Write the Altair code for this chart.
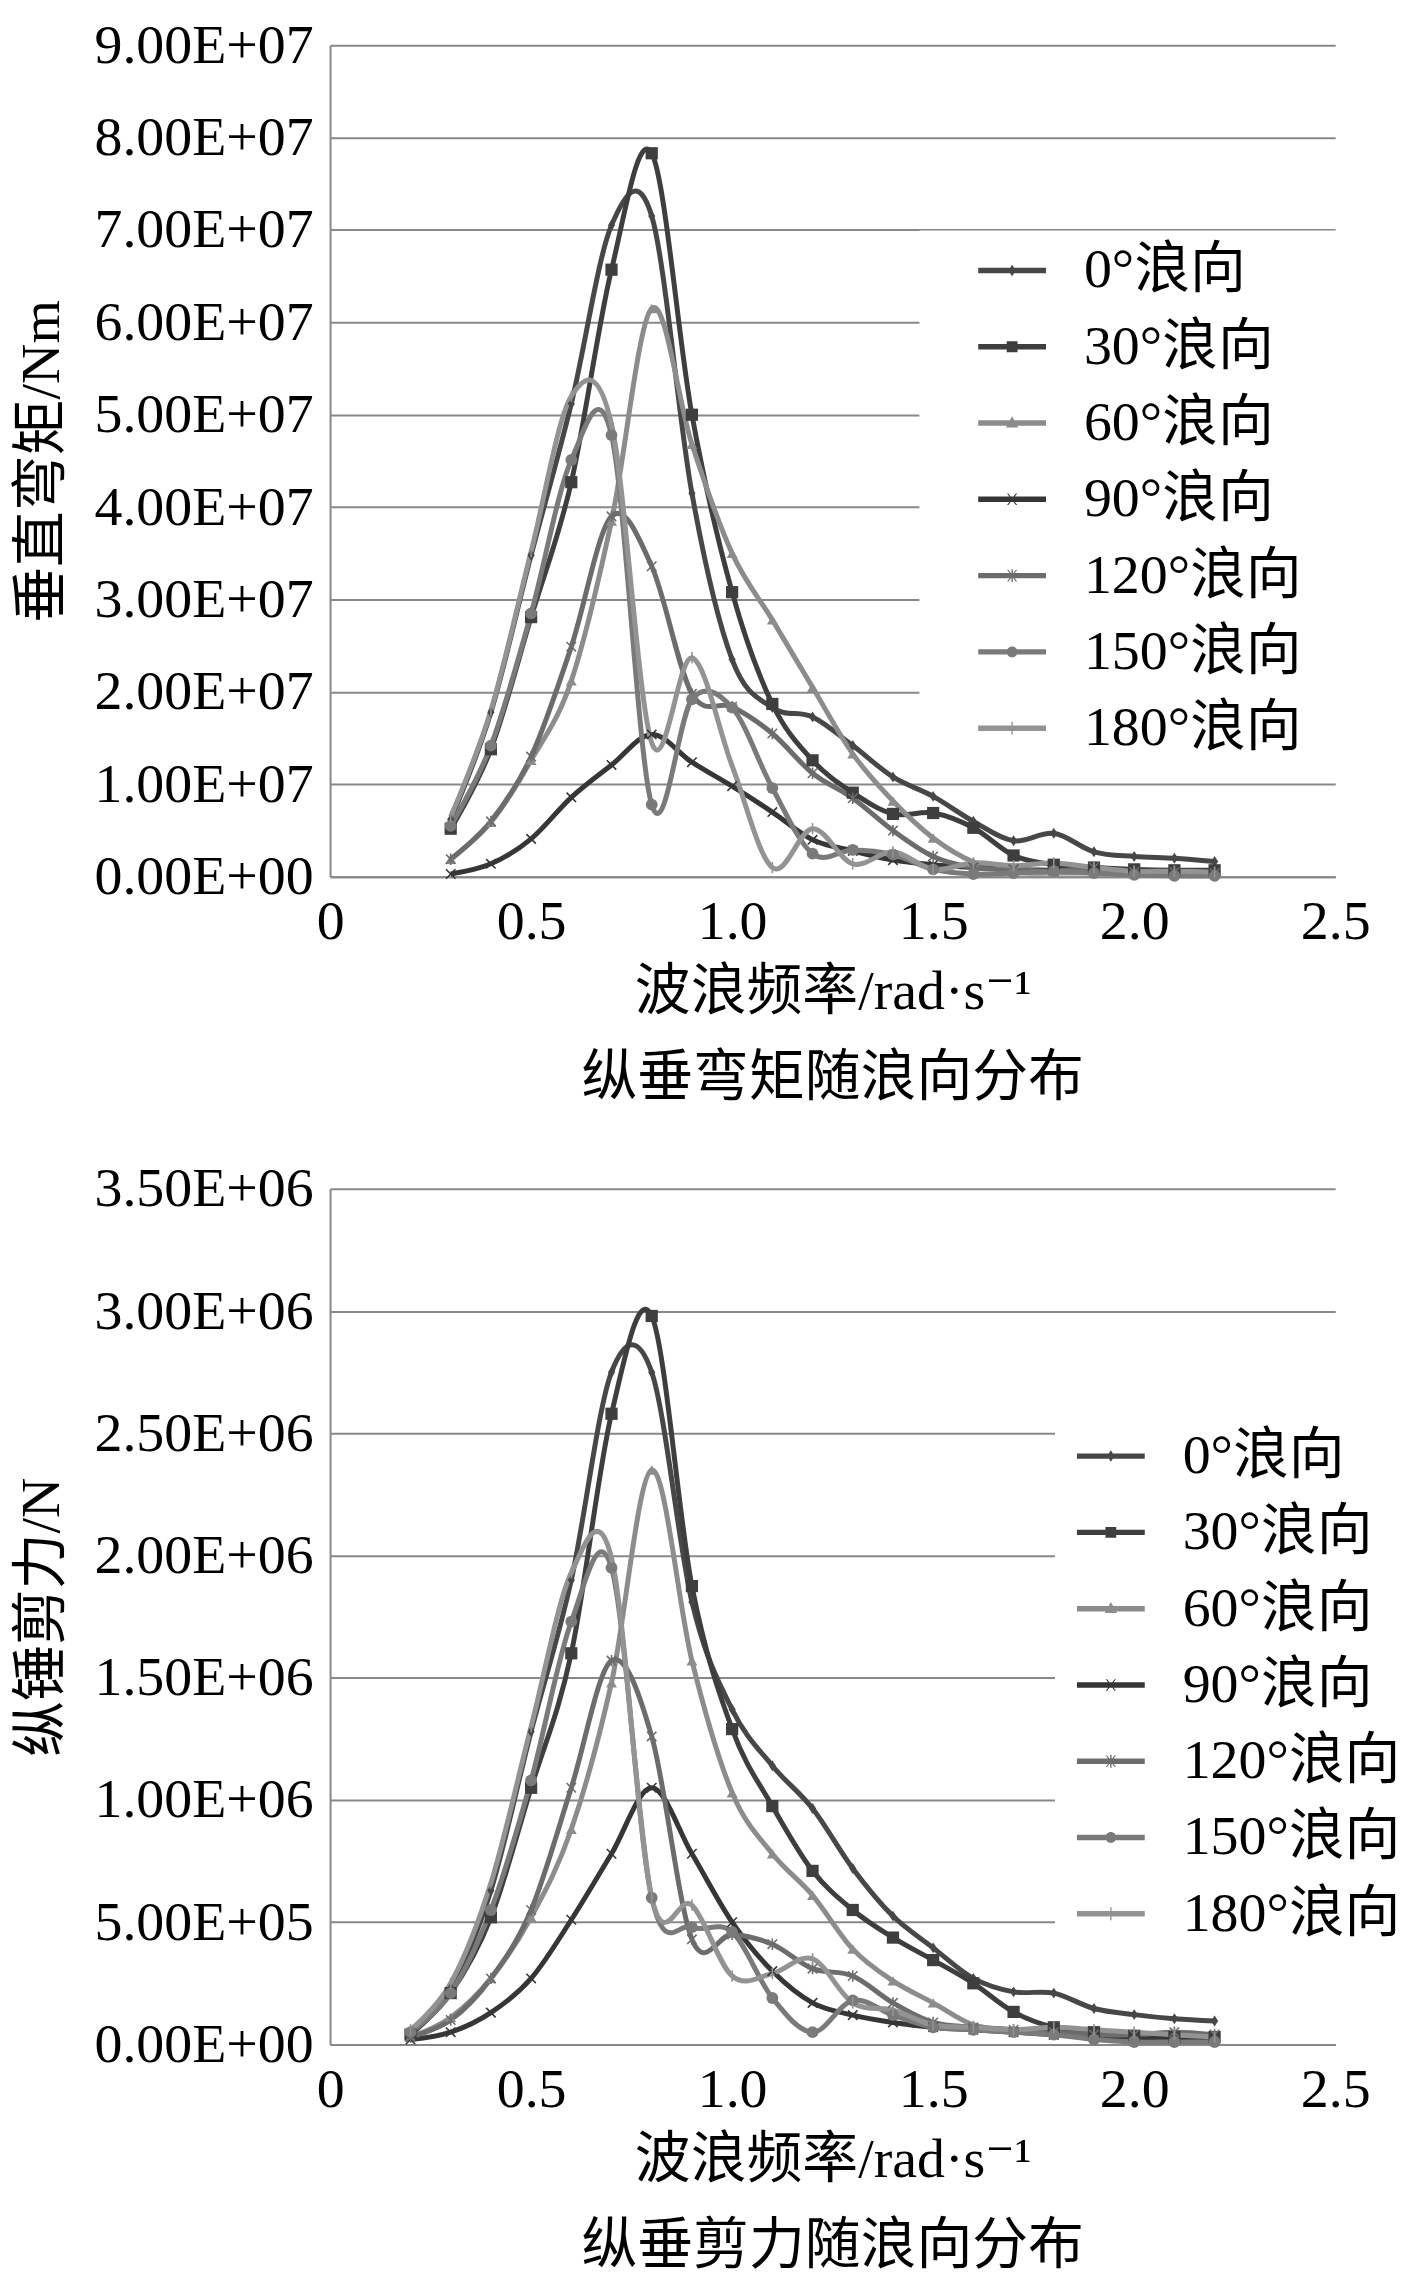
import altair as alt
import pandas as pd

# ---------------- data ----------------
SERIES = ["0°浪向", "30°浪向", "60°浪向", "90°浪向", "120°浪向", "150°浪向", "180°浪向"]

# top panel: vertical bending moment, unit 1e7 Nm
FREQ_M = [0.3, 0.4, 0.5, 0.6, 0.7, 0.8, 0.9, 1.0, 1.1, 1.2, 1.3, 1.4, 1.5, 1.6, 1.7, 1.8, 1.9, 2.0, 2.1, 2.2]
M_0 = [0.62, 1.78, 3.48, 5.12, 7.05, 7.15, 4.15, 2.35, 1.83, 1.73, 1.42, 1.08, 0.87, 0.60, 0.39, 0.47, 0.27, 0.22, 0.20, 0.165]
M_30 = [0.52, 1.38, 2.81, 4.27, 6.57, 7.83, 5.00, 3.08, 1.87, 1.26, 0.91, 0.68, 0.69, 0.53, 0.23, 0.13, 0.10, 0.08, 0.07, 0.07]
M_60 = [0.19, 0.59, 1.26, 2.12, 3.85, 6.15, 4.68, 3.50, 2.78, 2.05, 1.33, 0.82, 0.42, 0.16, 0.05, 0.04, 0.04, 0.03, 0.03, 0.03]
M_90 = [0.03, 0.14, 0.41, 0.86, 1.21, 1.54, 1.24, 0.98, 0.70, 0.40, 0.28, 0.18, 0.13, 0.10, 0.08, 0.07, 0.06, 0.05, 0.05, 0.05]
M_120 = [0.19, 0.60, 1.30, 2.49, 3.90, 3.36, 1.98, 1.84, 1.55, 1.12, 0.85, 0.50, 0.22, 0.10, 0.08, 0.06, 0.10, 0.05, 0.05, 0.04]
M_150 = [0.55, 1.42, 2.85, 4.51, 4.78, 0.78, 1.92, 1.83, 0.96, 0.25, 0.29, 0.24, 0.08, 0.03, 0.04, 0.06, 0.04, 0.02, 0.01, 0.01]
M_180 = [0.65, 1.80, 3.52, 5.20, 4.90, 1.45, 2.37, 1.20, 0.10, 0.52, 0.14, 0.27, 0.08, 0.15, 0.12, 0.15, 0.10, 0.06, 0.06, 0.05]

# bottom panel: vertical shear force, unit 1e6 N
FREQ_S = [0.2, 0.3, 0.4, 0.5, 0.6, 0.7, 0.8, 0.9, 1.0, 1.1, 1.2, 1.3, 1.4, 1.5, 1.6, 1.7, 1.8, 1.9, 2.0, 2.1, 2.2]
S_0 = [0.05, 0.23, 0.63, 1.28, 1.90, 2.75, 2.75, 1.81, 1.37, 1.14, 0.965, 0.72, 0.525, 0.395, 0.27, 0.215, 0.21, 0.147, 0.122, 0.105, 0.096]
S_30 = [0.04, 0.21, 0.52, 1.05, 1.60, 2.58, 2.98, 1.875, 1.29, 0.975, 0.71, 0.55, 0.437, 0.345, 0.25, 0.133, 0.07, 0.05, 0.035, 0.03, 0.03]
S_60 = [0.03, 0.11, 0.27, 0.52, 0.88, 1.48, 2.35, 1.57, 1.03, 0.78, 0.61, 0.39, 0.26, 0.17, 0.08, 0.06, 0.04, 0.03, 0.02, 0.02, 0.02]
S_90 = [0.02, 0.05, 0.13, 0.27, 0.51, 0.78, 1.05, 0.78, 0.50, 0.30, 0.17, 0.12, 0.09, 0.07, 0.06, 0.05, 0.04, 0.03, 0.03, 0.02, 0.02]
S_120 = [0.03, 0.10, 0.27, 0.55, 1.05, 1.57, 1.26, 0.43, 0.45, 0.41, 0.31, 0.28, 0.17, 0.09, 0.07, 0.06, 0.05, 0.04, 0.04, 0.05, 0.04]
S_150 = [0.05, 0.21, 0.55, 1.08, 1.73, 1.95, 0.60, 0.48, 0.46, 0.19, 0.05, 0.18, 0.12, 0.07, 0.06, 0.05, 0.04, 0.02, 0.01, 0.01, 0.01]
S_180 = [0.06, 0.25, 0.66, 1.30, 1.93, 1.99, 0.60, 0.57, 0.28, 0.29, 0.35, 0.17, 0.14, 0.08, 0.07, 0.06, 0.07, 0.06, 0.05, 0.04, 0.03]

X_TICKS = [0, 0.5, 1.0, 1.5, 2.0, 2.5]
Y_TICKS_M = [0, 1, 2, 3, 4, 5, 6, 7, 8, 9]
Y_TICKS_S = [0, 0.5, 1.0, 1.5, 2.0, 2.5, 3.0, 3.5]

# ---------------- style ----------------
FONT = "Liberation Serif, Noto Sans CJK SC, DejaVu Sans"
FS = 56
COLORS = ["#474747", "#3e3e3e", "#8c8c8c", "#363636", "#6c6c6c", "#7a7a7a", "#939393"]
GRID = "#888888"

# markers on the curves: (shape, filled, size, strokeWidth)
MARKERS = [
    ("M0,-1L0.65,0L0,1L-0.65,0Z", True, 120, 0),
    ("square", True, 150, 0),
    ("triangle-up", True, 120, 0),
    ("M-1,-1L1,1M-1,1L1,-1", False, 90, 1.6),
    ("M-1,-1L1,1M-1,1L1,-1M0,-1.2L0,1.2", False, 90, 1.6),
    ("circle", True, 140, 0),
    ("M0,-1.2L0,1.2", False, 90, 1.6),
]

BAR = "M-1,-0.08H1V0.08H-1Z "
LEGEND_PATHS = [
    BAR + "M0,-0.17L0.11,0L0,0.17L-0.11,0Z",
    BAR + "M-0.16,-0.16H0.16V0.16H-0.16Z",
    BAR + "M0,-0.2L0.18,0.13H-0.18Z",
    BAR + "M-0.15,-0.17L-0.11,-0.17L0.15,0.17L0.11,0.17Z M0.11,-0.17L0.15,-0.17L-0.11,0.17L-0.15,0.17Z",
    BAR + "M-0.15,-0.17L-0.11,-0.17L0.15,0.17L0.11,0.17Z M0.11,-0.17L0.15,-0.17L-0.11,0.17L-0.15,0.17Z M-0.02,-0.19H0.02V0.19H-0.02Z",
    BAR + "M-0.16,0A0.16,0.16 0 1,1 0.16,0A0.16,0.16 0 1,1 -0.16,0Z",
    BAR + "M-0.02,-0.19H0.02V0.19H-0.02Z",
]
LEG_SIZE = 68 * 68


def long_df(freq, series_values):
    rows = []
    for name, vals in zip(SERIES, series_values):
        for f, v in zip(freq, vals):
            rows.append({"freq": f, "value": v, "series": name})
    return pd.DataFrame(rows)


def panel(df, y_max, y_ticks, y_label_expr, y_title, title, height, legend_x, legend_y,
          legend_pad, symbol_offset, label_expr):
    x = alt.X("freq:Q", scale=alt.Scale(domain=[0, 2.5], nice=False, zero=False),
              axis=alt.Axis(values=X_TICKS, labelExpr="datum.value == 0 ? '0' : format(datum.value, '.1f')",
                            title="波浪频率/rad·s⁻¹", grid=False, ticks=False, labelFlush=False,
                            domainColor=GRID, domainWidth=2, labelPadding=18, titlePadding=15))
    y = alt.Y("value:Q", scale=alt.Scale(domain=[0, y_max], nice=False, zero=True),
              axis=alt.Axis(values=y_ticks, labelExpr=y_label_expr, title=y_title, grid=True,
                            gridColor=GRID, gridWidth=2, ticks=False, domainColor=GRID,
                            domainWidth=2, labelPadding=17, titlePadding=60))
    base = alt.Chart(df)
    layers = []
    for name, col in zip(SERIES, COLORS):
        layers.append(
            base.transform_filter(alt.datum.series == name)
            .mark_line(interpolate="cardinal", strokeWidth=5, color=col)
            .encode(x=x, y=y)
        )
    for name, col, (shape, filled, size, sw) in zip(SERIES, COLORS, MARKERS):
        layers.append(
            base.transform_filter(alt.datum.series == name)
            .mark_point(shape=shape, filled=filled, size=size, strokeWidth=sw, color=col, opacity=1)
            .encode(x=x, y=y)
        )
    leg = dict(orient="none", legendX=legend_x, legendY=legend_y, fillColor="white",
               padding=legend_pad, title=None, labelFont=FONT, labelFontSize=FS, labelColor="black",
               labelLimit=500, symbolSize=LEG_SIZE, symbolStrokeWidth=0, symbolOffset=symbol_offset,
               labelOffset=38, rowPadding=14.5, labelExpr=label_expr)
    legend_layer = (
        base.transform_filter("false")
        .mark_point(filled=True, opacity=1, size=LEG_SIZE)
        .encode(x=x, y=y,
                color=alt.Color("series:N", scale=alt.Scale(domain=SERIES, range=COLORS),
                                legend=alt.Legend(**leg)),
                shape=alt.Shape("series:N", scale=alt.Scale(domain=SERIES, range=LEGEND_PATHS),
                                legend=alt.Legend(**leg)))
    )
    layers.append(legend_layer)
    return alt.layer(*layers).properties(
        width=1008, height=height,
        title=alt.TitleParams(title, orient="bottom", frame="group", anchor="middle", font=FONT,
                              fontSize=FS, fontWeight="normal", color="black", offset=32),
    )


df_m = long_df(FREQ_M, [M_0, M_30, M_60, M_90, M_120, M_150, M_180])
df_s = long_df(FREQ_S, [S_0, S_30, S_60, S_90, S_120, S_150, S_180])

top = panel(df_m, 9, Y_TICKS_M,
            "datum.value == 0 ? '0.00E+00' : format(datum.value, '.2f') + 'E+07'",
            "垂直弯矩/Nm", "纵垂弯矩随浪向分布", 834, 591, 186, 6, 53,
            "datum.label + '\u2800\u2800'")
bottom = panel(df_s, 3.5, Y_TICKS_S,
               "datum.value == 0 ? '0.00E+00' : (datum.value < 1 ? format(datum.value * 10, '.2f') + 'E+05' : format(datum.value, '.2f') + 'E+06')",
               "纵锤剪力/N", "纵垂剪力随浪向分布", 858, 727, 226, 8, 14,
               "datum.label")

chart = alt.vconcat(top, bottom, spacing=55).resolve_scale(
    color="independent", shape="independent"
).resolve_legend(color="independent", shape="independent").properties(
    padding={"left": 6, "top": 6, "right": 0, "bottom": 0}
).configure_view(stroke=None).configure_axis(
    labelFont=FONT, labelFontSize=FS, labelColor="black", labelLimit=500,
    titleFont=FONT, titleFontSize=FS, titleColor="black", titleFontWeight="normal",
)

chart.save("out.html", embed_options={"renderer": "svg", "actions": False})
